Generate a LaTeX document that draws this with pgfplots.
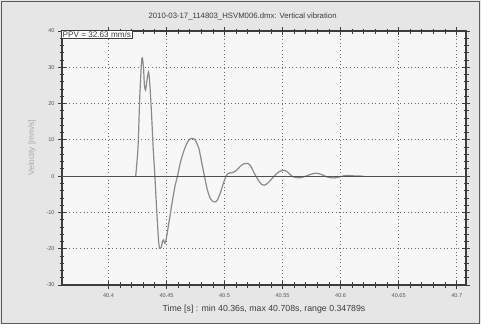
\documentclass[border=0pt]{standalone}
\usepackage{pgfplots}
\pgfplotsset{compat=1.18}
\usepackage{fontspec}
\setmainfont{Liberation Sans}
\definecolor{outerbg}{HTML}{E6E6E6}
\definecolor{plotbg}{HTML}{F7F7F7}
\definecolor{sig}{HTML}{8A8A8A}
\definecolor{axc}{HTML}{3C3C3C}
\definecolor{lab}{HTML}{555555}
\definecolor{ylab}{HTML}{A8A8A8}
\begin{document}
\begin{tikzpicture}
\fill[outerbg] (0,0) rectangle (481bp,324bp);
\draw[gray!70!black, line width=1bp] (1.5bp,0.5bp) rectangle (479.5bp,322.5bp);
\begin{axis}[
  at={(62bp,39bp)}, anchor=south west,
  scale only axis, width=404bp, height=254bp,
  xmin=40.36, xmax=40.708, ymin=-30, ymax=40,
  xtick={40.4,40.45,40.5,40.55,40.6,40.65,40.7},
  xticklabels={40.4,40.45,40.5,40.55,40.6,40.65,40.7},
  ytick={-30,-20,-10,0,10,20,30,40},
  minor x tick num=4, minor y tick num=4,
  tick pos=both, tick align=center,
  major tick length=8bp, minor tick length=5bp,
  every tick/.style={axc, line width=0.8bp},
  axis line style={axc, line width=1.1bp},
  grid=major, major grid style={dash pattern=on 1bp off 2.6bp, gray!85!black, line width=0.8bp},
  axis background/.style={fill=plotbg},
  /pgf/number format/assume math mode=true,
  tick label style={font=\fontsize{5.6}{6}\selectfont, color=lab},
  xticklabel style={yshift=-1bp},
  xlabel={Time [s] : min 40.36s, max 40.708s, range 0.34789s},
  xlabel style={font=\fontsize{8.8}{9}\selectfont, color=axc, yshift=-1bp},
  ylabel={Velocity [mm/s]},
  ylabel style={font=\fontsize{8.3}{9}\selectfont, color=ylab, at={(axis description cs:-0.074,0.54)}, anchor=center},
  title={2010-03-17\_114803\_HSVM006.dmx: Vertical vibration},
  title style={font=\fontsize{7.8}{8}\selectfont, color=axc, at={(axis description cs:0.447,1)}, anchor=south, yshift=1bp},
  clip mode=individual,
]
\addplot[sig, line width=1.2bp] coordinates {(40.36,0) (40.4235,0)};
\addplot[sig, line width=1.2bp, smooth, tension=0.4] coordinates {
(40.4235,0) (40.4255,8) (40.427,22) (40.4285,31.5) (40.4292,32.6)
(40.4302,30) (40.431,25) (40.432,23.7) (40.433,26) (40.4345,28.7) (40.4355,26)
(40.437,18) (40.4385,8) (40.440,0) (40.4415,-9) (40.443,-17) (40.444,-19.9)
(40.4455,-19.6) (40.4465,-18.0) (40.4475,-17.6) (40.4485,-18.5) (40.4495,-17.8)
(40.452,-13) (40.455,-7) (40.4575,-2.5) (40.4595,0) (40.462,3.8) (40.465,7)
(40.468,9.3) (40.4705,10.3) (40.4727,10.4) (40.475,9.8) (40.478,7.5) (40.4805,3.5)
(40.4827,0) (40.485,-3.5) (40.4875,-6) (40.490,-7) (40.492,-7.1) (40.494,-6.5)
(40.4965,-4.5) (40.499,-2) (40.5013,0) (40.503,0.7) (40.505,0.9) (40.507,1.0)
(40.509,1.3) (40.5115,2.0) (40.5145,3.0) (40.5175,3.5) (40.520,3.5) (40.5225,2.8)
(40.525,1.2) (40.527,0) (40.5295,-1.3) (40.532,-2.3) (40.5342,-2.5) (40.537,-2.0)
(40.540,-1.0) (40.5428,0) (40.546,1.0) (40.549,1.5) (40.5513,1.6) (40.554,1.2)
(40.5582,0) (40.562,-0.4) (40.5657,-0.4) (40.570,0) (40.575,0.6) (40.5797,0.8)
(40.584,0.4) (40.589,-0.3) (40.5942,-0.5) (40.599,-0.2) (40.603,0.1) (40.607,0.2)
(40.612,0.05) (40.62,0)
};
\addplot[sig, line width=1.2bp] coordinates {(40.62,0) (40.708,0)};
\addplot[axc!90, line width=1.1bp] coordinates {(40.36,0) (40.708,0)};
\node[draw=axc, line width=0.9bp, fill=white, anchor=north west, inner sep=1.2bp,
  xshift=-1bp, yshift=1bp,
  font=\fontsize{8.2}{9}\selectfont, text=axc] at (rel axis cs:0,1) {PPV = 32.63 mm/s};
\end{axis}
\end{tikzpicture}
\end{document}
